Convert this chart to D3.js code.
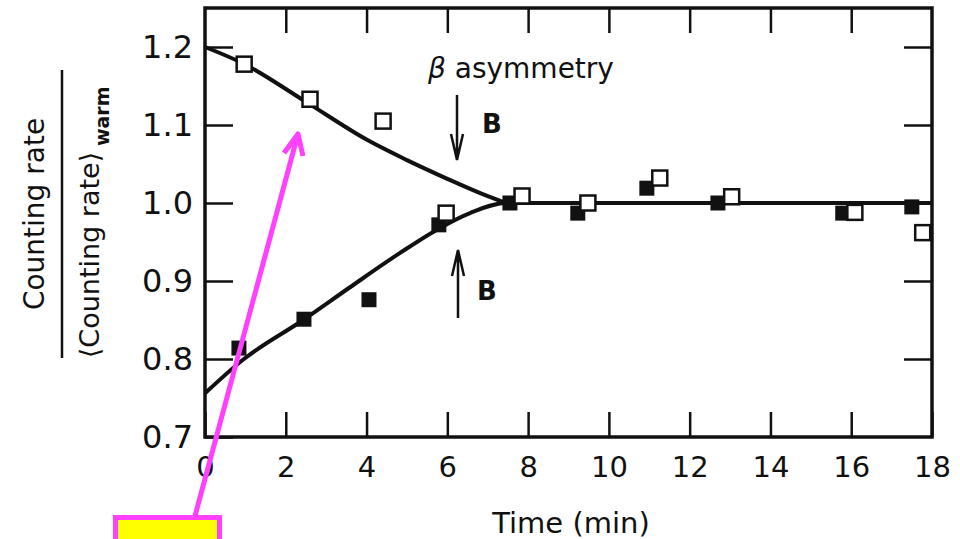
<!DOCTYPE html>
<html>
<head>
<meta charset="utf-8">
<script src="https://cdn.jsdelivr.net/npm/d3@7"></script>
<style>
  body { margin: 0; background: #fff; }
  text { font-family: "DejaVu Sans", sans-serif; fill: #111; }
</style>
</head>
<body>
<div id="chart"></div>
<script>
// values
const openTime = [0.97, 2.6, 4.41, 5.97, 7.85, 9.48, 11.26, 13.04, 16.09, 17.77];
const openRate = [1.178, 1.133, 1.105, 0.987, 1.009, 1.0, 1.032, 1.008, 0.988, 0.962];

const filledTime = [0.84, 2.45, 4.06, 5.79, 7.55, 9.23, 10.94, 12.7, 15.79, 17.5];
const filledRate = [0.814, 0.851, 0.876, 0.972, 1.0, 0.987, 1.019, 1.0, 0.987, 0.995];

// fitted curves
const upperTime = [0, 0.94, 2.52, 4.01, 5.0, 6.0, 6.8, 7.45];
const upperRate = [1.2, 1.179, 1.129, 1.081, 1.055, 1.031, 1.013, 1.0];
const lowerTime = [0, 0.94, 2.43, 3.59, 4.83, 5.82, 6.56, 7.45, 10, 14, 18];
const lowerRate = [0.756, 0.799, 0.85, 0.892, 0.936, 0.968, 0.987, 1.0, 1.0, 1.0, 1.0];

const xTicks = [0, 2, 4, 6, 8, 10, 12, 14, 16, 18];
const yTicks = [0.7, 0.8, 0.9, 1.0, 1.1, 1.2];

const width = 960, height = 539;
const margin = { top: 8, right: 28, bottom: 102, left: 205 };

const svg = d3.select("#chart").append("svg")
  .attr("width", width)
  .attr("height", height);

const x = d3.scaleLinear().domain([0, 18]).range([margin.left, width - margin.right]);
const y = d3.scaleLinear().domain([0.7, 1.25]).range([height - margin.bottom, margin.top]);

// axes - ticks point inward
const bottom = svg.append("g")
  .attr("transform", `translate(0,${y(0.7)})`)
  .call(d3.axisBottom(x).tickValues(xTicks).tickSize(-25).tickPadding(19).tickFormat(d3.format("d")));
bottom.selectAll("text").style("font-size", "29px");

svg.append("g")
  .attr("transform", `translate(0,${y(1.25)})`)
  .call(d3.axisTop(x).tickValues(xTicks.slice(1, -1)).tickSize(-25).tickFormat(""));

const left = svg.append("g")
  .attr("transform", `translate(${x(0)},0)`)
  .call(d3.axisLeft(y).tickValues(yTicks).tickSize(-28).tickPadding(12).tickFormat(d3.format(".1f")));
left.selectAll("text").style("font-size", "32px");

svg.append("g")
  .attr("transform", `translate(${x(18)},0)`)
  .call(d3.axisRight(y).tickValues(yTicks.slice(1)).tickSize(-28).tickFormat(""));

svg.selectAll(".domain").remove();
svg.selectAll(".tick line").attr("stroke", "#111").attr("stroke-width", 2.5);

// frame
svg.append("rect")
  .attr("x", x(0)).attr("y", y(1.25))
  .attr("width", x(18) - x(0)).attr("height", y(0.7) - y(1.25))
  .attr("fill", "none").attr("stroke", "#111").attr("stroke-width", 3.5);

// fit lines
const line = d3.line()
  .x(d => x(d[0]))
  .y(d => y(d[1]))
  .curve(d3.curveMonotoneX);

svg.append("path")
  .datum(upperTime.map((t, i) => [t, upperRate[i]]))
  .attr("d", line)
  .attr("fill", "none").attr("stroke", "#111").attr("stroke-width", 4);

svg.append("path")
  .datum(lowerTime.map((t, i) => [t, lowerRate[i]]))
  .attr("d", line)
  .attr("fill", "none").attr("stroke", "#111").attr("stroke-width", 4);

// markers
const sq = 15;
svg.append("g").selectAll("rect")
  .data(filledTime.map((t, i) => [t, filledRate[i]]))
  .join("rect")
  .attr("x", d => x(d[0]) - sq / 2)
  .attr("y", d => y(d[1]) - sq / 2)
  .attr("width", sq).attr("height", sq)
  .attr("fill", "#111");

svg.append("g").selectAll("rect")
  .data(openTime.map((t, i) => [t, openRate[i]]))
  .join("rect")
  .attr("x", d => x(d[0]) - sq / 2)
  .attr("y", d => y(d[1]) - sq / 2)
  .attr("width", sq).attr("height", sq)
  .attr("fill", "#fff").attr("stroke", "#111").attr("stroke-width", 2.5);

// annotation: beta asymmetry and the B arrows
svg.append("text")
  .attr("x", 428).attr("y", 78)
  .style("font-size", "28px")
  .html('<tspan font-style="italic">β</tspan> asymmetry');

function arrow(xp, y0, y1) {
  // y1 is the tip
  const dir = y1 > y0 ? -1 : 1;
  svg.append("path")
    .attr("d", `M${xp},${y0}L${xp},${y1}M${xp - 6},${y1 + dir * 26}L${xp},${y1}L${xp + 6},${y1 + dir * 26}`)
    .attr("fill", "none").attr("stroke", "#111").attr("stroke-width", 2.5);
}
arrow(457, 95, 160);
arrow(458, 318, 250);

svg.append("text").attr("x", 482).attr("y", 133)
  .style("font-size", "26px").style("font-weight", "bold").text("B");
svg.append("text").attr("x", 477).attr("y", 300)
  .style("font-size", "26px").style("font-weight", "bold").text("B");

// axis titles
svg.append("text")
  .attr("x", 571).attr("y", 533)
  .attr("text-anchor", "middle")
  .style("font-size", "29px")
  .text("Time (min)");

svg.append("text")
  .attr("transform", "translate(44,214) rotate(-90)")
  .attr("text-anchor", "middle")
  .style("font-size", "28px")
  .text("Counting rate");

svg.append("line")
  .attr("x1", 62).attr("x2", 62).attr("y1", 70).attr("y2", 358)
  .attr("stroke", "#111").attr("stroke-width", 2.5);

svg.append("text")
  .attr("transform", "translate(99,255) rotate(-90)")
  .attr("text-anchor", "middle")
  .style("font-size", "27px")
  .text("⟨Counting rate⟩");

svg.append("text")
  .attr("transform", "translate(109,146) rotate(-90)")
  .style("font-size", "19px").style("font-weight", "bold")
  .text("warm");

// magenta pointer and yellow box
const pink = "#ff40ff";
svg.append("rect")
  .attr("x", 115.5).attr("y", 517.5)
  .attr("width", 104).attr("height", 40)
  .attr("fill", "#ffff00").attr("stroke", pink).attr("stroke-width", 5);

svg.append("path")
  .attr("d", "M195,516L298,134M284,153L298,134L303,156")
  .attr("fill", "none").attr("stroke", pink).attr("stroke-width", 5)
  .attr("stroke-linejoin", "round");
</script>
</body>
</html>
